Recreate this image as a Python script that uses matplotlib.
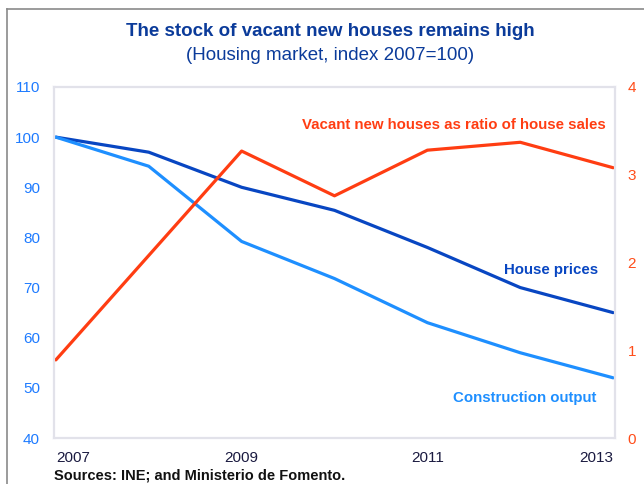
import matplotlib
matplotlib.use("Agg")
import matplotlib.pyplot as plt
from matplotlib.lines import Line2D

plt.rcParams['font.family'] = ['Liberation Sans', 'DejaVu Sans']

# Data
years = [2007, 2008, 2009, 2010, 2011, 2012, 2013]
house_prices = [100, 97, 90, 85.4, 78, 70, 65]
construction_output = [100, 94.2, 79.2, 71.8, 63, 57, 52]
vacant_years = [2007, 2009, 2010, 2011, 2012, 2013]
vacant_ratio = [0.89, 3.27, 2.76, 3.28, 3.37, 3.08]

left_ticks = [40, 50, 60, 70, 80, 90, 100, 110]
right_ticks = [0, 1, 2, 3, 4]
x_ticks = [2007, 2009, 2011, 2013]
x_ticklabels = ["2007", "2009", "2011", "2013"]

title = "The stock of vacant new houses remains high"
subtitle = "(Housing market, index 2007=100)"
source = "Sources: INE; and Ministerio de Fomento."

c_dark = "#0846c2"
c_light = "#1e8fff"
c_red = "#ff3d12"
c_title = "#0b3b9a"
c_frame = "#e2e2ea"

W, H = 644, 484
fig = plt.figure(figsize=(W / 100, H / 100), dpi=100)
fig.patch.set_facecolor("white")

L, R, T, B = 54, 615, 87, 438
ax = fig.add_axes([L / W, 1 - B / H, (R - L) / W, (B - T) / H])
ax2 = ax.twinx()

ax.plot(years, house_prices, color=c_dark, lw=2.3, solid_capstyle='round')
ax.plot(years, construction_output, color=c_light, lw=2.3, solid_capstyle='round')
ax2.plot(vacant_years, vacant_ratio, color=c_red, lw=2.3, solid_capstyle='round')

ax.set_xlim(2006.98, 2013.02)
ax.set_ylim(40, 110)
ax2.set_ylim(0, 4)

ax.set_yticks(left_ticks)
ax.set_yticklabels([str(v) for v in left_ticks])
ax2.set_yticks(right_ticks)
ax2.set_yticklabels([str(v) for v in right_ticks])
ax.set_xticks(x_ticks)
ax.set_xticklabels(x_ticklabels)

ax.tick_params(axis='y', length=0, pad=10, labelsize=11, labelcolor="#1e7bff")
ax2.tick_params(axis='y', length=0, pad=9, labelsize=11, labelcolor="#ff4d1a")
ax.tick_params(axis='x', length=0, pad=9, labelsize=11, labelcolor="#1a1a40")
labs = ax.get_xticklabels()
labs[0].set_ha('left')
labs[-1].set_ha('right')

for a in (ax, ax2):
    for s in a.spines.values():
        s.set_color(c_frame)
        s.set_linewidth(1.5)

# Series labels
ax2.text(2013 - 0.08, 3.57, "Vacant new houses as ratio of house sales", color=c_red,
         fontsize=10.8, fontweight='bold', ha='right', va='center')
ax.text(2013 - 0.16, 73.6, "House prices", color=c_dark,
        fontsize=10.8, fontweight='bold', ha='right', va='center')
ax.text(2013 - 0.18, 48.0, "Construction output", color=c_light,
        fontsize=10.8, fontweight='bold', ha='right', va='center')

# Titles
fig.text(330 / W, 1 - 32 / H, title, color=c_title, fontsize=13.5, fontweight='bold',
         ha='center', va='center')
fig.text(330 / W, 1 - 56 / H, subtitle, color=c_title, fontsize=13.5,
         ha='center', va='center')
fig.text(54 / W, 1 - 476 / H, source, color="#111111", fontsize=10.5, fontweight='bold',
         ha='left', va='center')

# Outer frame (partial box)
fig.add_artist(Line2D([7 / W, 7 / W], [0, 1 - 9 / H], transform=fig.transFigure,
                      color="#8a8a8a", lw=1.2))
fig.add_artist(Line2D([7 / W, 1], [1 - 9 / H, 1 - 9 / H], transform=fig.transFigure,
                      color="#8a8a8a", lw=1.2))

fig.savefig("out.png", dpi=100)
